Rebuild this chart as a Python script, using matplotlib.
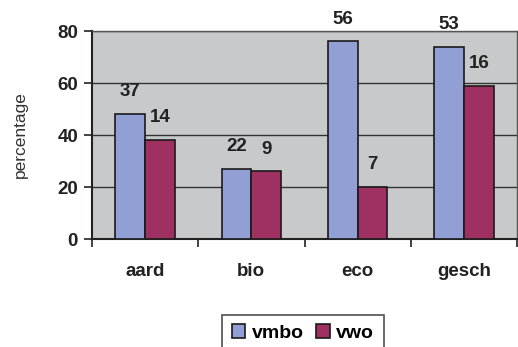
import matplotlib.pyplot as plt
import numpy as np

plt.rcParams['font.family'] = ['Liberation Sans', 'DejaVu Sans']

subjects = ['aard', 'bio', 'eco', 'gesch']
vmbo_pct = [48, 27, 76, 74]
vwo_pct = [38, 26, 20, 59]
# counts written above each bar
vmbo_n = [37, 22, 56, 53]
vwo_n = [14, 9, 7, 16]

fig = plt.figure(figsize=(5.18, 3.47), dpi=100)
ax = fig.add_axes([92 / 518, 108 / 347, 425 / 518, 208 / 347])
ax.set_facecolor('#c8c9cb')

x = np.arange(len(subjects))
w = 0.28
b1 = ax.bar(x - w / 2, vmbo_pct, w, color='#929fd4', edgecolor='#1a1a1a', linewidth=1.2,
            label='vmbo', zorder=3)
b2 = ax.bar(x + w / 2, vwo_pct, w, color='#9e3161', edgecolor='#1a1a1a', linewidth=1.2,
            label='vwo', zorder=3)

for bars, counts in ((b1, vmbo_n), (b2, vwo_n)):
    for bar, n in zip(bars, counts):
        ax.annotate(str(n), (bar.get_x() + bar.get_width() / 2, bar.get_height()),
                    xytext=(0, 16), textcoords='offset points', ha='center', va='center',
                    fontsize=13.5, fontweight='bold', color='#222222', annotation_clip=False)

ax.set_xlim(-0.5, len(subjects) - 0.5)
ax.set_ylim(0, 80)
ax.set_yticks([0, 20, 40, 60, 80])
ax.yaxis.grid(True, color='#333333', linewidth=1.0, zorder=1)
ax.set_axisbelow(True)

ax.set_xticks(x)
ax.set_xticklabels(subjects, fontsize=13.5, fontweight='bold', color='#222222')
ax.tick_params(axis='x', length=0, pad=17)
ax.set_xticks(np.arange(-0.5, len(subjects)), minor=True)
ax.tick_params(axis='x', which='minor', length=6, width=1.2, color='#222222', direction='out')
ax.tick_params(axis='y', length=6, width=1.2, color='#222222', pad=4)
for lbl in ax.get_yticklabels():
    lbl.set_fontsize(13.5)
    lbl.set_fontweight('bold')
    lbl.set_color('#222222')

for side in ('left', 'bottom'):
    ax.spines[side].set_color('#222222')
    ax.spines[side].set_linewidth(1.5)
for side in ('top', 'right'):
    ax.spines[side].set_color('#555555')
    ax.spines[side].set_linewidth(1.0)

ax.set_ylabel('percentage', fontsize=12.5, color='#333333', labelpad=21)

leg = fig.legend(handles=[b1, b2], loc='upper center', bbox_to_anchor=(303 / 518, 1 - 305 / 347),
                 ncol=2, frameon=True, fancybox=False, edgecolor='#222222',
                 prop={'size': 14, 'weight': 'bold'}, handlelength=0.7, handleheight=0.7,
                 handletextpad=0.35, columnspacing=0.6, borderpad=0.5)
leg.get_frame().set_linewidth(1.2)

fig.savefig('out.png', dpi=100)
